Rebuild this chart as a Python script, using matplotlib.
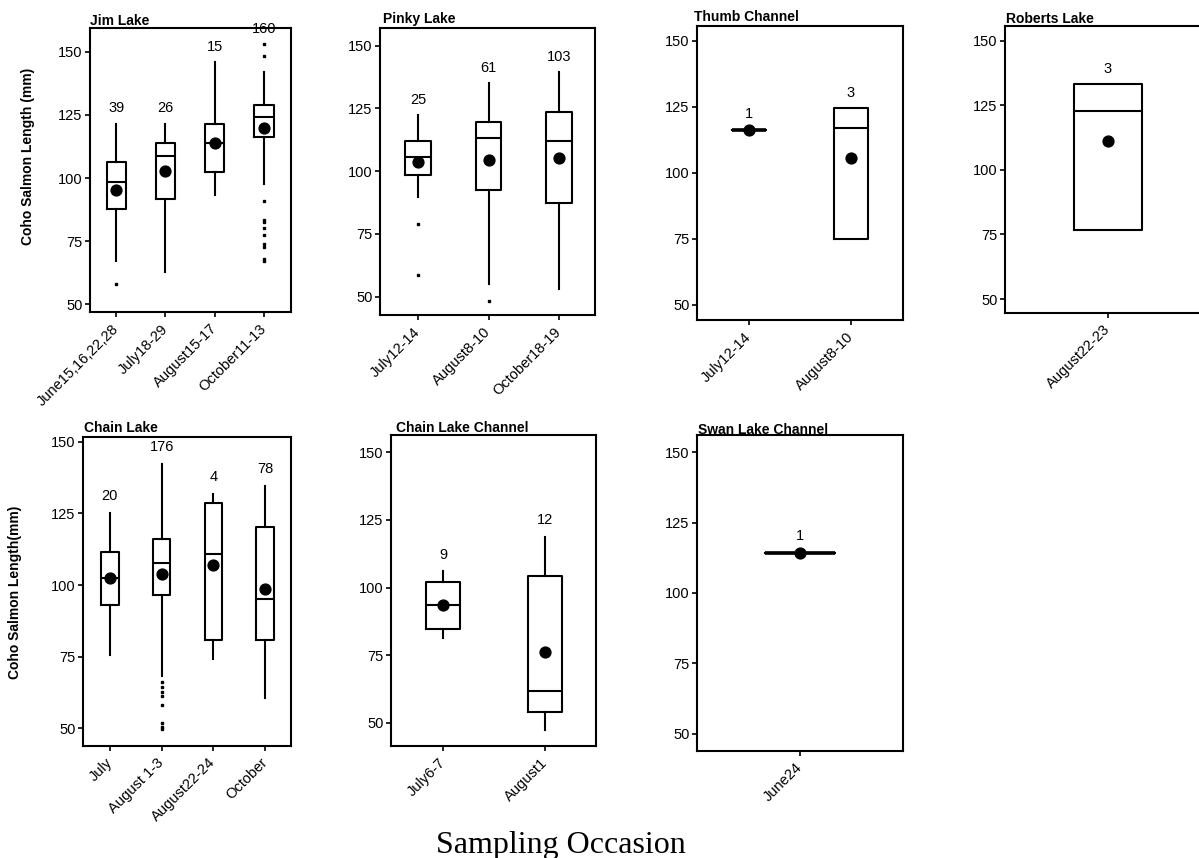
import matplotlib
matplotlib.use('Agg')
import matplotlib.pyplot as plt

plt.rcParams['font.family'] = ['Liberation Sans', 'DejaVu Sans']

W, H = 1199, 858

# ---------------- data ----------------
jim_cats = ['June15,16,22,28', 'July18-29', 'August15-17', 'October11-13']
jim_n = [39, 26, 15, 160]
jim_whislo = [67.2, 62.9, 93.3, 97.5]
jim_q1 = [87.6, 91.8, 102.5, 116.4]
jim_med = [98.5, 108.8, 113.7, 124.0]
jim_q3 = [106.2, 113.7, 121.4, 128.9]
jim_whishi = [121.6, 121.6, 146.0, 141.8]
jim_mean = [95.3, 102.9, 113.7, 119.7]
jim_fliers = [[58.0], [], [],
              [152.9, 148.3, 90.9, 83.4, 82.7, 80.1, 77.4, 74.1, 72.6, 67.8, 67.3]]

pinky_cats = ['July12-14', 'August8-10', 'October18-19']
pinky_n = [25, 61, 103]
pinky_whislo = [89.8, 54.9, 53.2]
pinky_q1 = [98.5, 92.5, 87.5]
pinky_med = [105.5, 113.1, 111.9]
pinky_q3 = [112.0, 119.6, 123.7]
pinky_whishi = [122.4, 135.0, 139.4]
pinky_mean = [103.5, 104.4, 105.2]
pinky_fliers = [[79.0, 58.5], [48.4], []]

thumb_cats = ['July12-14', 'August8-10']
thumb_n = [1, 3]
thumb_whislo = [116.2, 75.0]
thumb_q1 = [116.2, 75.0]
thumb_med = [116.2, 117.1]
thumb_q3 = [116.2, 124.4]
thumb_whishi = [116.2, 124.4]
thumb_mean = [116.2, 105.6]
thumb_fliers = [[], []]

roberts_cats = ['August22-23']
roberts_n = [3]
roberts_whislo = [76.8]
roberts_q1 = [76.8]
roberts_med = [122.8]
roberts_q3 = [133.2]
roberts_whishi = [133.2]
roberts_mean = [111.2]
roberts_fliers = [[]]

chain_cats = ['July', 'August 1-3', 'August22-24', 'October']
chain_n = [20, 176, 4, 78]
chain_whislo = [75.5, 68.3, 74.1, 60.7]
chain_q1 = [92.9, 96.7, 80.8, 80.8]
chain_med = [102.6, 107.8, 110.8, 95.1]
chain_q3 = [111.4, 116.2, 128.5, 120.3]
chain_whishi = [125.0, 142.2, 131.7, 134.7]
chain_mean = [102.6, 103.8, 106.9, 98.7]
chain_fliers = [[], [66.3, 64.5, 62.8, 61.3, 58.1, 52.0, 50.6, 49.7], [], []]

chainch_cats = ['July6-7', 'August1']
chainch_n = [9, 12]
chainch_whislo = [81.2, 47.3]
chainch_q1 = [84.6, 53.9]
chainch_med = [93.5, 61.8]
chainch_q3 = [101.9, 104.4]
chainch_whishi = [106.1, 118.8]
chainch_mean = [93.4, 76.0]
chainch_fliers = [[], []]

swan_cats = ['June24']
swan_n = [1]
swan_whislo = [114.4]
swan_q1 = [114.4]
swan_med = [114.4]
swan_q3 = [114.4]
swan_whishi = [114.4]
swan_mean = [114.4]
swan_fliers = [[]]

yticks = [50, 75, 100, 125, 150]

# ---------------- layout (pixel boxes) ----------------
panels = [
    ('Jim Lake', (jim_cats, jim_n, jim_whislo, jim_q1, jim_med, jim_q3, jim_whishi, jim_mean, jim_fliers),
     (90, 291, 28, 312), (47.0, 159.4), (0.47, 4.55), 0.39, (90, 21)),
    ('Pinky Lake', (pinky_cats, pinky_n, pinky_whislo, pinky_q1, pinky_med, pinky_q3, pinky_whishi, pinky_mean, pinky_fliers),
     (380, 595, 28, 315), (42.7, 157.0), (0.46, 3.51), 0.36, (383, 19)),
    ('Thumb Channel', (thumb_cats, thumb_n, thumb_whislo, thumb_q1, thumb_med, thumb_q3, thumb_whishi, thumb_mean, thumb_fliers),
     (697, 903, 26, 320), (44.3, 155.6), (0.49, 2.51), 0.34, (694, 17)),
    ('Roberts Lake', (roberts_cats, roberts_n, roberts_whislo, roberts_q1, roberts_med, roberts_q3, roberts_whishi, roberts_mean, roberts_fliers),
     (1005, 1211, 26, 313), (44.6, 155.7), (0.5, 1.5), 0.33, (1006, 19)),
    ('Chain Lake', (chain_cats, chain_n, chain_whislo, chain_q1, chain_med, chain_q3, chain_whishi, chain_mean, chain_fliers),
     (83, 291, 437, 746), (43.8, 151.7), (0.48, 4.5), 0.34, (84, 428)),
    ('Chain Lake Channel', (chainch_cats, chainch_n, chainch_whislo, chainch_q1, chainch_med, chainch_q3, chainch_whishi, chainch_mean, chainch_fliers),
     (391, 596, 435, 746), (41.4, 156.4), (0.49, 2.5), 0.34, (396, 428)),
    ('Swan Lake Channel', (swan_cats, swan_n, swan_whislo, swan_q1, swan_med, swan_q3, swan_whishi, swan_mean, swan_fliers),
     (697, 903, 435, 751), (43.8, 156.2), (0.5, 1.5), 0.34, (698, 430)),
]

fig = plt.figure(figsize=(W / 100, H / 100), dpi=100)
fig.patch.set_facecolor('white')

LW = 1.5
for title, data, (x0, x1, y0, y1), ylim, xlim, bw, (tx, ty) in panels:
    cats, ns, wlo, q1, med, q3, whi, mean, fl = data
    ax = fig.add_axes([x0 / W, 1 - y1 / H, (x1 - x0) / W, (y1 - y0) / H])
    stats = []
    for i in range(len(cats)):
        stats.append(dict(med=med[i], q1=q1[i], q3=q3[i], whislo=wlo[i], whishi=whi[i],
                          mean=mean[i], fliers=fl[i], label=cats[i]))
    positions = list(range(1, len(cats) + 1))
    single = [s for s in range(len(cats)) if ns[s] == 1]
    ax.bxp(stats, positions=positions, widths=bw, showmeans=True, showcaps=False,
           boxprops=dict(color='black', linewidth=LW),
           whiskerprops=dict(color='black', linewidth=LW),
           medianprops=dict(color='black', linewidth=LW),
           meanprops=dict(marker='o', markerfacecolor='black', markeredgecolor='black', markersize=7.8),
           flierprops=dict(marker='s', markerfacecolor='black', markeredgecolor='black', markersize=1.8))
    for s in single:
        ax.hlines(med[s], positions[s] - bw / 2, positions[s] + bw / 2, color='black', linewidth=2.6, zorder=2.5)
    for i in range(len(cats)):
        top = max([whi[i]] + list(fl[i]))
        ax.text(positions[i], top + 6, str(ns[i]), ha='center', va='center', fontsize=10.5, clip_on=False)
    ax.set_xlim(*xlim)
    ax.set_ylim(*ylim)
    ax.set_yticks(yticks)
    ax.set_xticks(positions)
    ax.set_xticklabels(cats, rotation=45, ha='right', va='center', rotation_mode='anchor', fontsize=10.5)
    ax.tick_params(axis='both', direction='out', length=3.5, width=1.2, labelsize=10.5, pad=2)
    ax.tick_params(axis='x', pad=7)
    for sp in ax.spines.values():
        sp.set_linewidth(LW)
    fig.text(tx / W, 1 - ty / H, title, ha='left', va='center', fontsize=10, fontweight='bold')

fig.text(28 / W, 1 - 156 / H, 'Coho Salmon Length (mm)', rotation=90, ha='center', va='center',
         fontsize=10, fontweight='bold')
fig.text(15 / W, 1 - 592 / H, 'Coho Salmon Length(mm)', rotation=90, ha='center', va='center',
         fontsize=10, fontweight='bold')
fig.text(561 / W, 1 - 845 / H, 'Sampling Occasion', ha='center', va='center', fontsize=23,
         family=['Liberation Serif', 'DejaVu Serif'])

fig.savefig('out.png', dpi=100)
